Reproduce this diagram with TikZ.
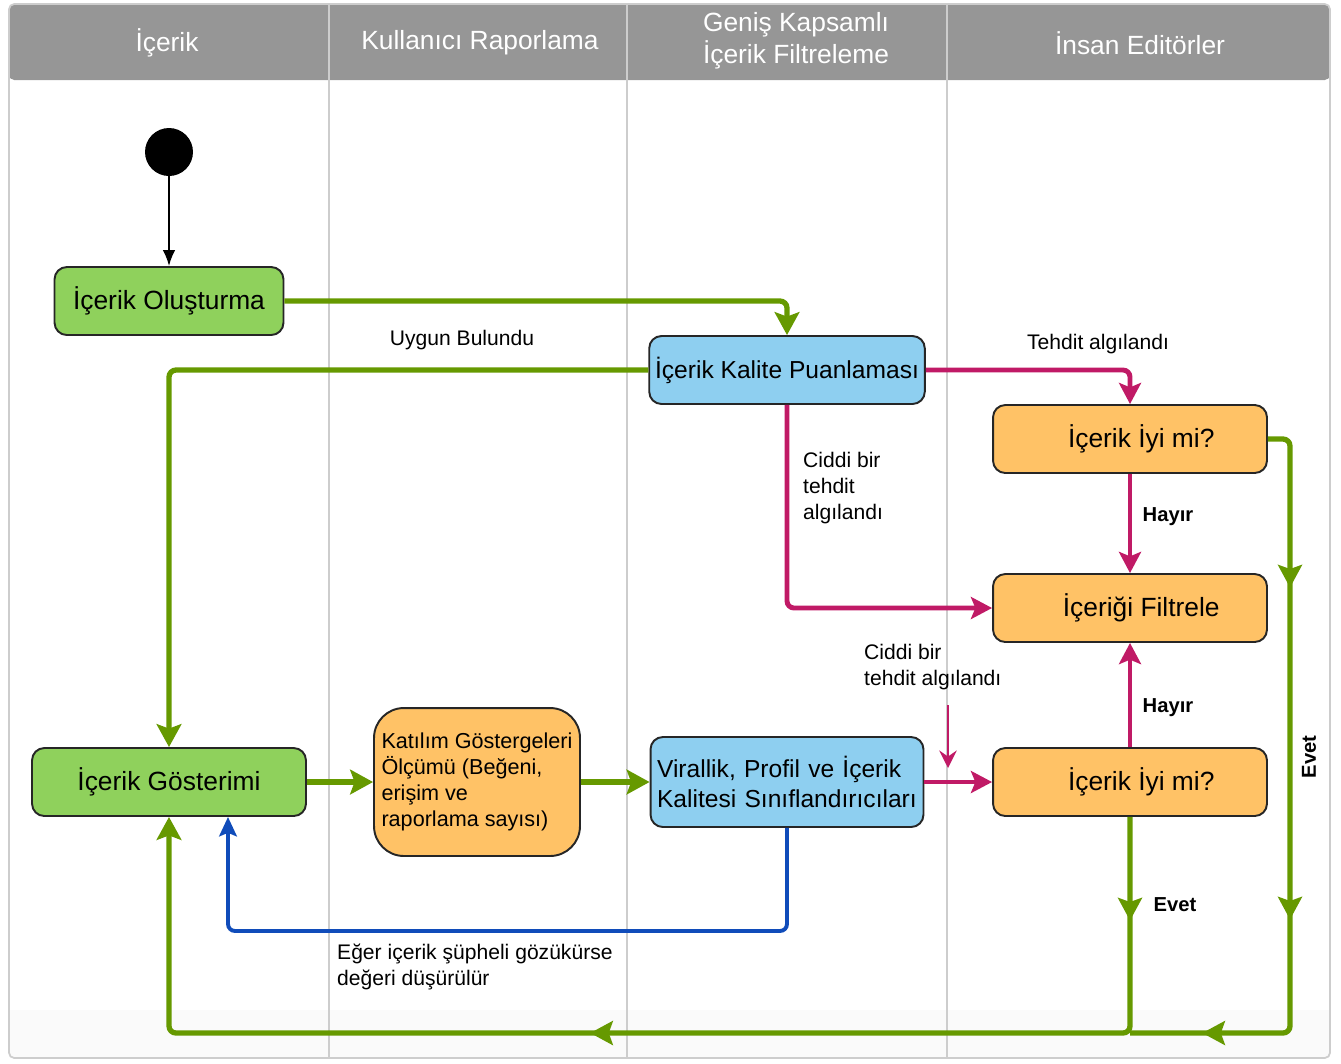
\documentclass[tikz,border=0pt]{standalone}
\usepackage{fontspec}
\setmainfont{Liberation Sans}
\usepackage{xcolor}
\usetikzlibrary{positioning,arrows.meta,decorations.markings}

\definecolor{headgray}{RGB}{150,150,150}
\definecolor{lanegray}{RGB}{205,205,205}
\definecolor{actgreen}{RGB}{143,209,92}
\definecolor{actblue}{RGB}{142,207,240}
\definecolor{actorange}{RGB}{255,194,102}
\definecolor{flowgreen}{RGB}{102,153,0}
\definecolor{flowred}{RGB}{192,26,102}
\definecolor{flowblue}{RGB}{16,76,186}

\begin{document}
\begin{tikzpicture}[
  x=0.02cm, y=-0.02cm,
  font=\fontsize{15}{18}\selectfont,
  box/.style={draw=black!85, line width=1.1pt, rounded corners=7pt,
    minimum height=1.36cm, align=center},
  greenbox/.style={box, fill=actgreen},
  bluebox/.style={box, fill=actblue, font=\fontsize{14}{17}\selectfont},
  orangebox/.style={box, fill=actorange},
  gtip/.tip={Stealth[length=13pt,width=14pt,inset=2.5pt]},
  rtip/.tip={Stealth[length=12pt,width=12.5pt,inset=2.5pt]},
  okline/.style={draw=flowgreen, line width=3pt, rounded corners=4pt, -gtip},
  midtip/.style={postaction={decorate, decoration={markings,
    mark=at position #1 with {\arrow[flowgreen, line width=1pt]{gtip}}}}},
  threatline/.style={draw=flowred, line width=2.8pt, rounded corners=4pt, -rtip},
  downline/.style={draw=flowblue, line width=2.2pt, rounded corners=4pt,
    -{Stealth[length=11pt,width=10pt,inset=2pt]}},
  lbl/.style={font=\fontsize{12}{14.8}\selectfont, align=left},
  blbl/.style={font=\bfseries\fontsize{11.5}{14.5}\selectfont},
  lanehead/.style={text=white, font=\fontsize{15}{18}\selectfont, align=left}
    ]

% swimlanes
\useasboundingbox (0,0) rectangle (1341,1063);
\fill[black!2] (10,1010) rectangle (1330,1057);
\fill[headgray, rounded corners=3pt] (9,4) rectangle (1330,80);
\draw[lanegray, line width=1pt, rounded corners=3pt] (9,4) rectangle (1330,1058);
\foreach \lx in {329,627,947}
  \draw[lanegray, line width=1pt] (\lx,4) -- (\lx,1058);
\node[lanehead] (h1) at (167,43) {İçerik};
\node[lanehead] (h2) at (480,43) {Kullanıcı Raporlama};
\node[lanehead] (h3) at (796,41) {Geniş Kapsamlı\\İçerik Filtreleme};
\node[lanehead] (h4) at (1140,43) {İnsan Editörler};

% activities
\node[circle, fill=black, minimum size=0.96cm, inner sep=0pt] (start) at (169,152) {};
\node[greenbox, minimum width=4.58cm] (make) at (169,301) {İçerik Oluşturma};
\node[bluebox, minimum width=5.46cm] (score) at (787,370) {İçerik Kalite Puanlaması};
\node[orangebox, minimum width=5.48cm] (good1) at (1130,439) {\hspace{0.45cm}İçerik İyi mi?};
\node[orangebox, minimum width=5.48cm] (filter) at (1130,608) {\hspace{0.45cm}İçeriği Filtrele};
\node[orangebox, minimum width=5.48cm] (good2) at (1130,782) {\hspace{0.45cm}İçerik İyi mi?};
\node[greenbox, minimum width=5.48cm] (show) at (169,782) {İçerik Gösterimi};
\node[orangebox, rounded corners=17pt, minimum width=4.1cm, minimum height=2.96cm,
  inner xsep=0.15cm, align=left, font=\fontsize{12.3}{14.7}\selectfont] (metric) at (477,782)
  {Katılım Göstergeleri\\Ölçümü (Beğeni,\\erişim ve\\raporlama sayısı)};
\node[bluebox, minimum width=5.46cm, minimum height=1.8cm, text width=5.2cm, align=left] (viral) at (787,782)
  {Virallik, Profil ve İçerik\\Kalitesi Sınıflandırıcıları};

% flows
\draw[black, line width=1pt, -{Latex[length=9pt,width=7pt]}] (start) -- (make);
\draw[okline] (make.east) -| (score.north);
\draw[okline] (score.west) -| (show.north);
\draw[threatline] (score.east) -| (good1.north);
\draw[threatline] (score.south) |- (filter.west);
\draw[threatline] (good1.south) -- (filter.north);
\draw[threatline] (good2.north) -- (filter.south);
\draw[threatline] (viral.east) -- (good2.west);
\coordinate (hintA) at (948,705);
\coordinate (hintB) at (948,768);
\draw[flowred, line width=1.3pt, -{Stealth[length=10pt,width=10pt,inset=3.5pt]}] (hintA) -- (hintB);
\draw[okline] (show.east) -- (metric.west);
\draw[okline] (metric.east) -- (viral.west);
\coordinate (lowturn) at (228,931);
\draw[downline] (viral.south) |- (lowturn) -- (lowturn |- show.south);

% back to display
\coordinate (evR) at (1290,1033);
\coordinate (evD) at (1130,1033);
\draw[okline, -, midtip=0.2175, midtip=0.6486, midtip=0.906] (good1.east) -| (evR) -- (evD);
\draw[okline, midtip=0.0746, midtip=0.5427] (good2.south) -- (evD) -| (show.south);

% labels
\node[lbl] (lok) at (462,340) {Uygun Bulundu};
\node[lbl] (lthreat) at (1098,344) {Tehdit algılandı};
\node[lbl, anchor=west] (lsev1) at (797,488) {Ciddi bir\\tehdit\\algılandı};
\node[lbl, anchor=west] (lsev2) at (858,667) {Ciddi bir\\tehdit algılandı};
\node[blbl] (lno1) at (1168,517) {Hayır};
\node[blbl] (lno2) at (1168,708) {Hayır};
\node[blbl] (lyes1) at (1175,905) {Evet};
\node[blbl, rotate=90] (lyes2) at (1309,757) {Evet};
\node[lbl, anchor=west] (ldrop) at (331,967) {Eğer içerik şüpheli gözükürse\\değeri düşürülür};
\end{tikzpicture}
\end{document}
